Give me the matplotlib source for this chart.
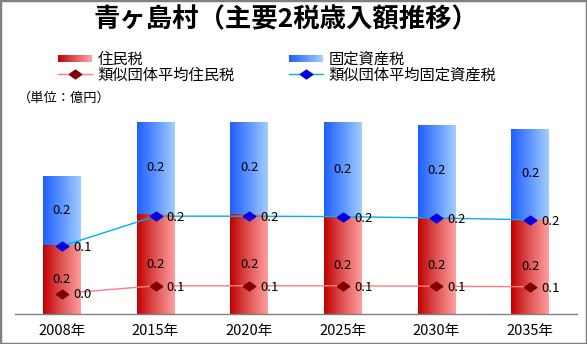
import matplotlib
matplotlib.use('Agg')
import matplotlib.pyplot as plt
import numpy as np
from matplotlib.colors import LinearSegmentedColormap
from matplotlib.patches import Rectangle
from matplotlib.lines import Line2D
from matplotlib.legend_handler import HandlerBase

plt.rcParams['font.family'] = ['Noto Sans CJK JP', 'DejaVu Sans']

categories = ['2008年', '2015年', '2020年', '2025年', '2030年', '2035年']
resident_tax = [0.152, 0.219, 0.219, 0.214, 0.214, 0.209]
fixed_asset_tax = [0.151, 0.204, 0.204, 0.207, 0.202, 0.198]
avg_resident_tax = [0.045, 0.062, 0.062, 0.062, 0.061, 0.060]
avg_fixed_asset_tax = [0.149, 0.215, 0.215, 0.214, 0.211, 0.207]
title = '青ヶ島村（主要2税歳入額推移）'
unit_label = '（単位：億円）'
legend_labels = ['住民税', '固定資産税', '類似団体平均住民税', '類似団体平均固定資産税']

W, H = 587, 344
fig = plt.figure(figsize=(W / 100, H / 100), dpi=100)
fig.patch.set_facecolor('white')
ax = fig.add_axes([15 / W, (H - 314) / H, 562 / W, 214 / H])

x = np.arange(len(categories))
red_cmap = LinearSegmentedColormap.from_list('r', ['#C00000', '#E05656', '#FF9E9E'])
blue_cmap = LinearSegmentedColormap.from_list('b', ['#1F5FFF', '#5E95FF', '#A3CEFF'])
bw = 38 / 93.7

b1 = ax.bar(x, resident_tax, width=bw, color='none', edgecolor='none')
b2 = ax.bar(x, fixed_asset_tax, bottom=resident_tax, width=bw, color='none', edgecolor='none')
grad = np.linspace(0, 1, 256).reshape(1, -1)
for bars, cmap in ((b1, red_cmap), (b2, blue_cmap)):
    for p in bars:
        x0, y0 = p.get_x(), p.get_y()
        w, h = p.get_width(), p.get_height()
        im = ax.imshow(grad, cmap=cmap, extent=(x0, x0 + w, y0, y0 + h),
                       aspect='auto', zorder=1, interpolation='bilinear')
        im.set_clip_path(p)

ax.bar_label(b1, labels=[f'{v:.1f}' for v in resident_tax], label_type='center', fontsize=9.5, zorder=5)
ax.bar_label(b2, labels=[f'{v:.1f}' for v in fixed_asset_tax], label_type='center', fontsize=9.5, zorder=5)

diamond = [(-1, 0), (0, 0.7), (1, 0), (0, -0.7), (-1, 0)]
ax.plot(x, avg_resident_tax, color='#FF7C80', lw=1, marker=diamond, ms=9,
        mfc='#7F0000', mec='#7F0000', zorder=3)
ax.plot(x, avg_fixed_asset_tax, color='#00B0F0', lw=1, marker=diamond, ms=9,
        mfc='#0000E0', mec='#0000E0', zorder=3)
for xi, v in zip(x, avg_resident_tax):
    ax.annotate(f'{v:.1f}', (xi, v), xytext=(8, -1), textcoords='offset points',
                ha='left', va='center', fontsize=9.5, zorder=6)
for xi, v in zip(x, avg_fixed_asset_tax):
    ax.annotate(f'{v:.1f}', (xi, v), xytext=(8, -1), textcoords='offset points',
                ha='left', va='center', fontsize=9.5, zorder=6)

ax.set_xlim(-0.5, 5.5)
ax.set_ylim(0, 214 / 455)
ax.set_xticks(x)
ax.set_xticklabels(categories)
ax.set_yticks([])
ax.tick_params(axis='x', length=0, pad=7, labelsize=10.5)
for s in ('top', 'right', 'left'):
    ax.spines[s].set_visible(False)
ax.spines['bottom'].set_color('#808080')
ax.spines['bottom'].set_linewidth(1)
ax.set_facecolor('none')


class GradHandler(HandlerBase):
    def __init__(self, cmap):
        super().__init__()
        self.cmap = cmap

    def create_artists(self, legend, orig_handle, xdescent, ydescent, width, height, fontsize, trans):
        n = 30
        arts = []
        hh = 5.0
        y0 = -ydescent + (height - hh) / 2
        for k in range(n):
            r = Rectangle((-xdescent + width * k / n, y0), width / n * 1.1, hh,
                          facecolor=self.cmap(k / (n - 1)), edgecolor='none', transform=trans)
            arts.append(r)
        return arts


h_red = Rectangle((0, 0), 1, 1)
h_blue = Rectangle((0, 0), 1, 1)
l_red = Line2D([], [], color='#FF7C80', lw=1, marker=diamond, ms=9, mfc='#7F0000', mec='#7F0000')
l_blue = Line2D([], [], color='#00B0F0', lw=1, marker=diamond, ms=9, mfc='#0000E0', mec='#0000E0')
hmap = {h_red: GradHandler(red_cmap), h_blue: GradHandler(blue_cmap)}

common = dict(loc='upper left', frameon=False, fontsize=11, handlelength=2.2,
              handletextpad=0.4, borderpad=0, borderaxespad=0, labelspacing=-0.1,
              handler_map=hmap)
fig.legend(handles=[h_red, l_red], labels=[legend_labels[0], legend_labels[2]],
           bbox_to_anchor=(58 / W, 1 - 51 / H), **common)
fig.legend(handles=[h_blue, l_blue], labels=[legend_labels[1], legend_labels[3]],
           bbox_to_anchor=(289 / W, 1 - 51 / H), **common)

fig.text(286 / W, 1 - 20 / H, title, ha='center', va='center', fontsize=19, fontweight='bold')
fig.text(18 / W, 1 - 98 / H, unit_label, ha='left', va='center', fontsize=9.5)

fig.add_artist(Rectangle((0, 0), 1, 1, transform=fig.transFigure, fill=False,
                         edgecolor='#808080', lw=2.5))

fig.savefig('out.png', dpi=100)
